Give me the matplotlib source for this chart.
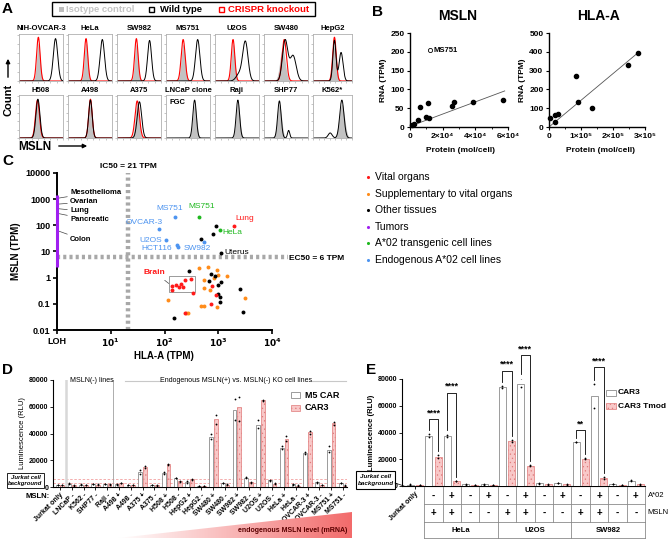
import matplotlib
matplotlib.use("Agg")
import matplotlib.pyplot as plt
import numpy as np
from matplotlib.patches import Rectangle, Polygon
from matplotlib.transforms import blended_transform_factory
from matplotlib.colors import LinearSegmentedColormap

plt.rcParams["font.family"] = ["Liberation Sans", "DejaVu Sans"]
plt.rcParams["hatch.linewidth"] = 0.4
plt.rcParams["axes.linewidth"] = 0.8

W, H = 669, 539

# ---------------- data ----------------
# A: flow histograms (peak centre / width / height on a 0..1 log-fluorescence axis)
a_names = ["NIH-OVCAR-3", "HeLa", "SW982", "MS751", "U2OS", "SW480", "HepG2",
           "H508", "A498", "A375", "LNCaP clone", "Raji", "SHP77", "K562*"]
a_iso_c = [0.44, 0.41, 0.44, 0.39, 0.41, 0.42, 0.55, 0.42, 0.51, 0.46, 0.65, 0.52, 0.35, 0.74]
a_iso_s = [0.04, 0.04, 0.04, 0.045, 0.04, 0.06, 0.05, 0.045, 0.04, 0.045, 0.045, 0.045, 0.05, 0.07]
a_iso_h = [0.82, 0.82, 0.80, 0.80, 0.80, 0.72, 0.78, 0.85, 0.85, 0.82, 0.80, 0.82, 0.80, 0.80]
a_wt_c = [0.83, 0.78, 0.74, 0.72, 0.69, 0.48, 0.55, 0.43, 0.51, 0.51, 0.65, 0.52, 0.35, 0.74]
a_wt_s = [0.05, 0.05, 0.045, 0.05, 0.06, 0.06, 0.04, 0.045, 0.04, 0.05, 0.04, 0.04, 0.04, 0.055]
a_wt_h = [0.92, 0.90, 0.88, 0.90, 0.85, 0.88, 0.88, 0.92, 0.90, 0.86, 0.90, 0.90, 0.88, 0.90]
a_wt2_c = [0.60, 0.60, 0.60, 0.60, 0.55, 0.66, 0.72, 0.60, 0.60, 0.60, 0.60, 0.60, 0.56, 0.44]
a_wt2_s = [0.05, 0.05, 0.05, 0.05, 0.07, 0.07, 0.05, 0.05, 0.05, 0.05, 0.05, 0.05, 0.025, 0.05]
a_wt2_h = [0.0, 0.0, 0.0, 0.0, 0.15, 0.55, 0.62, 0.0, 0.0, 0.0, 0.0, 0.0, 0.18, 0.12]
a_ko_c = [0.44, 0.41, 0.44, 0.39, 0.41, 0.46, 0.55, 0.42, 0.51, 0.46, None, None, None, None]
a_ko_s = [0.04, 0.04, 0.04, 0.045, 0.04, 0.05, 0.045, 0.045, 0.04, 0.05, 0, 0, 0, 0]
a_ko_h = [0.95, 0.92, 0.92, 0.90, 0.90, 0.90, 0.95, 0.90, 0.92, 0.88, 0, 0, 0, 0]

# B: RNA vs protein
b_msln_prot = [1000, 2400, 4600, 6000, 9600, 11400, 11000, 25500, 26700, 38600, 57200]
b_msln_rna = [4.5, 7, 18, 52, 27, 24, 64, 55, 67, 67, 71]
b_ms751 = (12000, 204)
b_msln_fit = (0.00162, 2.0)  # slope, intercept
b_hla_prot = [2000, 18000, 20000, 27000, 85000, 92000, 134000, 248000, 277000]
b_hla_rna = [50, 29, 65, 68, 270, 135, 101, 329, 396]
b_hla_fit = (0.00142, 0.0)

# C: MSLN vs HLA-A expression
c_vital_x = [1967, 137, 137, 166, 183, 200, 218, 237, 316, 345, 750, 904, 729, 237]
c_vital_y = [92.7, 0.48, 0.336, 0.52, 0.43, 0.57, 0.45, 0.81, 0.86, 0.27, 0.49, 0.217, 0.099, 0.046]
c_supp_x = [440, 631, 930, 1000, 841, 546, 1476, 698, 546, 115, 487, 546, 930, 3162, 255, 275]
c_supp_y = [2.39, 2.61, 1.95, 1.26, 0.94, 0.81, 1.15, 0.336, 0.39, 0.14, 0.085, 0.085, 0.078, 0.162, 0.046, 0.046]
c_other_x = [282, 718, 866, 668, 1122, 971, 1000, 1072, 1072, 2547, 2943, 150, 473, 783, 891, 1106]
c_other_y = [1.84, 1.37, 1.15, 0.76, 0.70, 0.52, 0.237, 0.188, 0.121, 0.357, 0.047, 0.028, 28.8, 45.9, 92.7, 8.9]
c_tg_x = [440, 1072]
c_tg_y = [210, 69]
c_endo_x = [154, 78, 107, 173, 178, 538]
c_endo_y = [210, 73, 27, 17.5, 14.3, 23.4]
c_tumor_names = ["Mesothelioma", "Ovarian", "Lung", "Pancreatic", "Colon"]
c_tumor_val = [1100, 650, 430, 280, 60]
c_tumor_range = (2.5, 1500)
c_ic50 = 21
c_ec50 = 6

# D: luciferase, M5 CAR vs CAR3
d_labels = ["Jurkat only", "LNCaP -", "K562 -", "SHP77 -", "Raji -", "A498 +", "A498 -",
            "A375 +", "A375 -", "H508 +", "H508 -", "HepG2 +", "HepG2 -", "SW480 +",
            "SW480 -", "SW982 +", "SW982 -", "U2OS +", "U2OS -", "HeLa +", "HeLa -",
            "OVCAR-3 +", "OVCAR-3 -", "MS751 +", "MS751 -"]
d_m5 = [1500, 2500, 1800, 2200, 2200, 2000, 1500, 11000, 1500, 10500, 6700, 3700, 1000,
        37500, 3000, 57500, 7000, 46700, 5000, 29500, 2000, 25700, 3500, 28000, 3000]
d_car3 = [1500, 1200, 1500, 1800, 2000, 3000, 1500, 15000, 1200, 17000, 4200, 5700, 800,
          50700, 1800, 59500, 3500, 64700, 2500, 36000, 1000, 41000, 1500, 47500, 1000]
d_m5_rep1 = [1700, 2700, 2000, 2400, 2400, 2200, 1700, 12500, 1700, 11000, 7000, 4200, 1100,
             39500, 3300, 65500, 7300, 50000, 5500, 30500, 2300, 26500, 3800, 31000, 3300]
d_m5_rep2 = [1300, 2300, 1600, 2000, 2000, 1800, 1300, 10000, 1300, 10000, 6500, 3300, 900,
             36000, 2700, 50000, 6800, 44000, 4600, 28500, 1800, 25000, 3200, 26500, 2700]
d_car3_rep1 = [1700, 1400, 1700, 2000, 2200, 3300, 1700, 15500, 1400, 17500, 4500, 6000, 900,
               54000, 2000, 67000, 3800, 65000, 2800, 38000, 1200, 42000, 1700, 48500, 1200]
d_car3_rep2 = [1300, 1000, 1300, 1600, 1800, 2700, 1300, 14500, 1000, 16500, 3900, 5400, 700,
               47000, 1600, 49000, 3200, 64000, 2200, 34500, 800, 40000, 1300, 46500, 800]
d_background = [3000, 5700]

# E: CAR3 vs CAR3 Tmod
e_a02 = ["-", "+", "-", "+", "-", "+", "-", "+", "-", "+", "-", "+"]
e_msln = ["+", "+", "-", "-", "+", "+", "-", "-", "+", "+", "-", "-"]
e_lines = ["HeLa", "U2OS", "SW982"]
e_car3 = [1000, 37500, 37500, 1200, 1200, 74000, 76000, 2000, 2200, 33000, 67500, 1500, 4000]
e_tmod = [700, 21500, 3700, 800, 800, 33700, 15000, 1200, 1200, 20500, 6200, 1000, 1200]
e_car3_rep1 = [1200, 39000, 38500, 1400, 1400, 74500, 81000, 2200, 2400, 33200, 76000, 1700, 4200]
e_car3_rep2 = [800, 36500, 36500, 1000, 1000, 73500, 74000, 1800, 2000, 32800, 58000, 1300, 3800]
e_tmod_rep1 = [800, 23000, 4000, 900, 900, 34500, 15500, 1300, 1300, 21000, 7000, 1100, 1300]
e_tmod_rep2 = [600, 21000, 3400, 700, 700, 33000, 14600, 1100, 1100, 20000, 5500, 900, 1100]
e_sig_col = [1, 2, 5, 6, 9, 10]
e_sig_y = [50000, 69500, 86000, 97700, 41500, 88700]
e_sig_txt = ["****", "****", "****", "****", "**", "****"]

WHITE_EDGE = "#8c8c8c"
PINK = "#f8c8c8"
PINK_EDGE = "#e07a7a"

fig = plt.figure(figsize=(W / 100, H / 100), dpi=100)


def add_ax(x0, y0, x1, y1):
    return fig.add_axes([x0 / W, 1 - y1 / H, (x1 - x0) / W, (y1 - y0) / H])


ov = fig.add_axes([0, 0, 1, 1], zorder=20)
ov.set_xlim(0, W)
ov.set_ylim(H, 0)
ov.axis("off")


def t(x, y, s, **kw):
    kw.setdefault("va", "center")
    ov.text(x, y, s, **kw)


# ---------------- Panel A ----------------
t(2, 9, "A", fontsize=11, fontweight="bold")
ov.add_patch(Rectangle((52, 2), 263, 14, fill=False, ec="k", lw=1))
ov.add_patch(Rectangle((59, 6.5), 5, 5, fc="#bdbdbd", ec="none"))
t(66, 9.5, "Isotype control", color="#c4c4c4", fontsize=6.8, fontweight="bold")
ov.add_patch(Rectangle((149, 6.5), 5, 5, fill=False, ec="k", lw=1))
t(160, 9.5, "Wild type", color="k", fontsize=6.8, fontweight="bold")
ov.add_patch(Rectangle((219, 6.5), 5, 5, fill=False, ec="red", lw=1))
t(228, 9.5, "CRISPR knockout", color="red", fontsize=6.8, fontweight="bold")

xs = np.linspace(0, 1, 300)


def peak(c, s, h):
    return h * np.exp(-0.5 * ((xs - c) / s) ** 2)


a_x0 = [19, 68, 117, 166, 215, 264, 313]
rows = [(34, 81), (95, 138)]
for i, name in enumerate(a_names):
    r, c = divmod(i, 7)
    y0, y1 = rows[r]
    w = 44 if c < 6 else 39
    ax = add_ax(a_x0[c], y0, a_x0[c] + w, y1)
    ax.fill_between(xs, peak(a_iso_c[i], a_iso_s[i], a_iso_h[i]), color="#c2c2c2", lw=0)
    if a_ko_c[i] is not None:
        ax.plot(xs, peak(a_ko_c[i], a_ko_s[i], a_ko_h[i]), color="red", lw=0.8)
    wt = peak(a_wt_c[i], a_wt_s[i], a_wt_h[i]) + peak(a_wt2_c[i], a_wt2_s[i], a_wt2_h[i])
    ax.plot(xs, wt, color="k", lw=0.7)
    ax.set_xlim(0, 1)
    ax.set_ylim(0, 1.02)
    ax.set_xticks(np.linspace(0, 1, 8))
    ax.set_yticks(np.linspace(0, 1, 6))
    ax.set_xticklabels([])
    ax.set_yticklabels([])
    ax.tick_params(length=1.2, width=0.4, colors="#999999")
    for sp in ax.spines.values():
        sp.set_color("#b0b0b0")
        sp.set_linewidth(0.6)
    t(a_x0[c] + w / 2, y0 - 5, name, ha="center", fontsize=5.5, fontweight="bold")
    if name == "LNCaP clone":
        t(a_x0[c] + 3, y0 + 8, "FGC", fontsize=5.5, fontweight="bold")

ov.annotate("", xy=(8, 56), xytext=(8, 80),
            arrowprops=dict(arrowstyle="-|>", color="k", lw=1, mutation_scale=6))
t(8, 100, "Count", rotation=90, ha="center", fontsize=8, fontweight="bold")
t(18, 147, "MSLN", fontsize=8.5, fontweight="bold")
ov.annotate("", xy=(90, 146), xytext=(56, 146),
            arrowprops=dict(arrowstyle="-|>", color="k", lw=1, mutation_scale=6))

# ---------------- Panel B ----------------
t(372, 12, "B", fontsize=11, fontweight="bold")


def style_b(ax):
    for sp in ["top", "right"]:
        ax.spines[sp].set_visible(False)
    for sp in ["left", "bottom"]:
        ax.spines[sp].set_linewidth(1.0)
    ax.tick_params(length=2.5, width=0.8, labelsize=6, pad=1.5)
    ax.tick_params(which="minor", length=1.5, width=0.6)
    for lab in ax.get_xticklabels() + ax.get_yticklabels():
        lab.set_fontweight("bold")


axb1 = add_ax(410, 33, 508, 127)
axb1.scatter(b_msln_prot, b_msln_rna, s=9, color="k", zorder=3, clip_on=False)
axb1.scatter([b_ms751[0]], [b_ms751[1]], s=9, facecolor="white", edgecolor="k", lw=0.6, zorder=3)
axb1.text(b_ms751[0] + 2500, b_ms751[1], "MS751", fontsize=5.5, fontweight="bold", va="center")
fx = np.array([0, 58000])
axb1.plot(fx, b_msln_fit[0] * fx + b_msln_fit[1], color="#555555", lw=0.6)
axb1.set_xlim(0, 60000)
axb1.set_ylim(0, 250)
axb1.set_xticks([0, 20000, 40000, 60000])
axb1.set_xticklabels(["0", "2×10⁴", "4×10⁴", "6×10⁴"])
axb1.set_xticks([10000, 30000, 50000], minor=True)
axb1.set_yticks([0, 50, 100, 150, 200, 250])
axb1.set_ylabel("RNA (TPM)", fontsize=6, fontweight="bold", labelpad=2)
style_b(axb1)
t(458, 16, "MSLN", ha="center", fontsize=10, fontweight="bold")
t(460, 150, "Protein (mol/cell)", ha="center", fontsize=6, fontweight="bold")

axb2 = add_ax(549, 33, 645, 127)
axb2.scatter(b_hla_prot, b_hla_rna, s=9, color="k", zorder=3, clip_on=False)
hx = np.array([0, 280000])
axb2.plot(hx, b_hla_fit[0] * hx + b_hla_fit[1], color="#555555", lw=0.6)
axb2.set_xlim(0, 300000)
axb2.set_ylim(0, 500)
axb2.set_xticks([0, 100000, 200000, 300000])
axb2.set_xticklabels(["0", "1×10⁵", "2×10⁵", "3×10⁵"])
axb2.set_xticks([50000, 150000, 250000], minor=True)
axb2.set_yticks([0, 100, 200, 300, 400, 500])
axb2.set_ylabel("RNA (TPM)", fontsize=6, fontweight="bold", labelpad=2)
style_b(axb2)
t(598, 16, "HLA-A", ha="center", fontsize=10, fontweight="bold")
t(600, 150, "Protein (mol/cell)", ha="center", fontsize=6, fontweight="bold")

# ---------------- Panel C ----------------
t(2, 161, "C", fontsize=11, fontweight="bold")
RED, ORANGE, PURPLE, GREEN, BLUE = "#ff1a1a", "#ff8c1a", "#a020f0", "#1fb81f", "#4d94f0"
axc = add_ax(57, 173, 272, 330)
axc.set_xscale("log")
axc.set_yscale("log")
axc.set_xlim(1, 1e4)
axc.set_ylim(0.01, 1e4)
dot = dict(s=8, lw=0, zorder=4, clip_on=False)
axc.scatter(c_supp_x, c_supp_y, color=ORANGE, **dot)
axc.scatter(c_other_x, c_other_y, color="k", **dot)
axc.scatter(c_vital_x, c_vital_y, color=RED, **dot)
axc.scatter(c_tg_x, c_tg_y, color=GREEN, **dot)
axc.scatter(c_endo_x, c_endo_y, color=BLUE, **dot)
axc.vlines(1, c_tumor_range[0], c_tumor_range[1], color=PURPLE, lw=2.2, zorder=5, clip_on=False)
dotline = dict(color="#a8a8a8", lw=3.2, linestyle=(0, (0.7, 0.7)), zorder=1, clip_on=False)
axc.plot([c_ic50, c_ic50], [0.01, 1e4], **dotline)
axc.plot([1, 2e4], [c_ec50, c_ec50], **dotline)
tumor_text_y = [1860, 780, 355, 162, 30]
for name, v, ty in zip(c_tumor_names, c_tumor_val, tumor_text_y):
    axc.annotate(name, xy=(1.08, v), xytext=(1.75, ty), fontsize=5.5, fontweight="bold",
                 va="center", arrowprops=dict(arrowstyle="-", color="#444444", lw=0.5,
                                              shrinkA=0, shrinkB=0))
axc.add_patch(Rectangle((120, 0.29), 243, 0.9, fill=False, ec="#9a9a9a", lw=0.7, zorder=3))
axc.annotate("Brain", xy=(120, 0.6), xytext=(65, 1.6), color=RED, fontsize=6,
             fontweight="bold", ha="center", va="center",
             arrowprops=dict(arrowstyle="-", color="#444444", lw=0.5, shrinkA=2, shrinkB=0))
axc.set_xticks([1, 10, 100, 1000, 10000])
axc.set_xticklabels(["LOH", r"$\mathbf{10^{1}}$", r"$\mathbf{10^{2}}$",
                     r"$\mathbf{10^{3}}$", r"$\mathbf{10^{4}}$"])
axc.set_yticks([0.01, 0.1, 1, 10, 100, 1000, 10000])
axc.set_yticklabels(["0.01", "0.1", "1", "10", "100", "1000", "10000"])
axc.minorticks_off()
for sp in ["top", "right"]:
    axc.spines[sp].set_visible(False)
for sp in ["left", "bottom"]:
    axc.spines[sp].set_linewidth(1.4)
axc.tick_params(length=3, width=1.2, labelsize=6.5, pad=2)
for lab in axc.get_xticklabels() + axc.get_yticklabels():
    lab.set_fontweight("bold")
axc.set_ylabel("MSLN (TPM)", fontsize=7, fontweight="bold", labelpad=3)
t(164, 356, "HLA-A (TPM)", ha="center", fontsize=7, fontweight="bold")
t(128, 166, "IC50 = 21 TPM", ha="center", fontsize=6, fontweight="bold")
t(289, 258, "EC50 = 6 TPM", fontsize=6, fontweight="bold")
lab_kw = dict(fontsize=6)
t(170, 209, "MS751", color=BLUE, ha="center", **lab_kw)
t(144, 222, "OVCAR-3", color=BLUE, ha="center", **lab_kw)
t(151, 240, "U2OS", color=BLUE, ha="center", **lab_kw)
t(157, 249, "HCT116", color=BLUE, ha="center", **lab_kw)
t(197, 249, "SW982", color=BLUE, ha="center", **lab_kw)
t(202, 207, "MS751", color=GREEN, ha="center", **lab_kw)
t(232, 233, "HeLa", color=GREEN, ha="center", **lab_kw)
t(245, 219, "Lung", color=RED, ha="center", **lab_kw)
t(237, 252, "Uterus", color="k", ha="center", **lab_kw)

c_leg = [("Vital organs", RED), ("Supplementary to vital organs", ORANGE),
         ("Other tissues", "k"), ("Tumors", PURPLE),
         ("A*02 transgenic cell lines", GREEN), ("Endogenous A*02 cell lines", BLUE)]
for k, (lab, col) in enumerate(c_leg):
    y = 177 + k * 16.6
    ov.scatter([368], [y], s=5, color=col, lw=0)
    t(375, y, lab, fontsize=7.5)

# ---------------- Panel D ----------------
t(2, 370, "D", fontsize=11, fontweight="bold")
axd = add_ax(53, 380, 347, 487)
xd = np.arange(len(d_labels))
axd.bar(xd - 0.2, d_m5, 0.32, color="white", edgecolor=WHITE_EDGE, lw=0.6, zorder=3)
axd.bar(xd + 0.2, d_car3, 0.32, color=PINK, edgecolor=PINK_EDGE, lw=0.5, hatch="....", zorder=3)
for reps, off in [(d_m5_rep1, -0.2), (d_m5_rep2, -0.2), (d_car3_rep1, 0.2), (d_car3_rep2, 0.2)]:
    axd.plot(xd + off, reps, "o", color="k", ms=1.3, mew=0, zorder=4)
for v in d_background:
    axd.axhline(v, color="#f2a0a0", lw=0.6, ls=(0, (3, 2)), zorder=1)
axd.axvline(0.5, color="#d8d8d8", lw=1.8, zorder=2)
axd.axvline(4.5, color="#a0a0a0", lw=0.6, zorder=2)
axd.set_xlim(-0.594, 24.34)
axd.set_ylim(0, 80000)
axd.set_yticks([0, 20000, 40000, 60000, 80000])
axd.set_xticks(xd)
axd.set_xticklabels(d_labels, rotation=45, ha="right", rotation_mode="anchor")
for sp in ["top", "right"]:
    axd.spines[sp].set_visible(False)
axd.tick_params(length=2, width=0.6, labelsize=5, pad=1.5)
for lab in axd.get_xticklabels() + axd.get_yticklabels():
    lab.set_fontweight("bold")
axd.set_ylabel("Luminescence (RLU)", fontsize=5.5, labelpad=2)
t(92, 381, "MSLN(-) lines", ha="center", fontsize=5)
t(236, 381, "Endogenous MSLN(+) vs. MSLN(-) KO cell lines", ha="center", fontsize=5)
ov.plot([125, 160], [381, 381], color="#c8c8c8", lw=0.8)
ov.plot([311, 346], [381, 381], color="#c8c8c8", lw=0.8)
ov.add_patch(Rectangle((7, 473), 37, 15, fc="white", ec="k", lw=0.6))
t(25.5, 477.5, "Jurkat cell", ha="center", fontsize=4.3, fontstyle="italic", fontweight="bold")
t(25.5, 484, "background", ha="center", fontsize=4.3, fontstyle="italic", fontweight="bold")
t(25, 497, "MSLN:", fontsize=5.5, fontweight="bold")
ov.add_patch(Rectangle((291, 392), 9, 6, fc="white", ec=WHITE_EDGE, lw=0.6))
t(305, 395, "M5 CAR", fontsize=6.5, fontweight="bold")
ov.add_patch(Rectangle((291, 405), 9, 6, fc=PINK, ec=PINK_EDGE, lw=0.5, hatch="...."))
t(305, 408, "CAR3", fontsize=6.5, fontweight="bold")

# gradient wedge: endogenous MSLN level
axg = add_ax(118, 512, 352, 538)
grad = np.linspace(0, 1, 256).reshape(1, -1)
cmap = LinearSegmentedColormap.from_list("wedge", ["#ffffff", "#f26b6b"])
im = axg.imshow(grad, aspect="auto", cmap=cmap, extent=(0, 1, 0, 1))
wedge = Polygon([(0, 0), (1, 1), (1, 0)], closed=True, transform=axg.transAxes, fc="none", ec="none")
axg.add_patch(wedge)
im.set_clip_path(wedge)
axg.set_xlim(0, 1)
axg.set_ylim(0, 1)
axg.axis("off")
t(293, 531, "endogenous MSLN level (mRNA)", ha="center", fontsize=5, fontweight="bold", color="#5a0000")

# ---------------- Panel E ----------------
t(366, 370, "E", fontsize=11, fontweight="bold")
axe = add_ax(402, 379, 645, 486)
xe = np.arange(len(e_car3))
axe.bar(xe - 0.25, e_car3, 0.38, color="white", edgecolor=WHITE_EDGE, lw=0.6, zorder=3)
axe.bar(xe + 0.25, e_tmod, 0.38, color=PINK, edgecolor=PINK_EDGE, lw=0.5, hatch="....", zorder=3)
for reps, off in [(e_car3_rep1, -0.25), (e_car3_rep2, -0.25), (e_tmod_rep1, 0.25), (e_tmod_rep2, 0.25)]:
    axe.plot(xe + off, reps, "o", color="k", ms=1.3, mew=0, zorder=4)
for col, yb, txt in zip(e_sig_col, e_sig_y, e_sig_txt):
    lo_l = max(e_car3[col], e_car3_rep1[col]) + 3000
    lo_r = max(e_tmod[col], e_tmod_rep1[col]) + 3000
    axe.plot([col - 0.25, col - 0.25, col + 0.25, col + 0.25], [lo_l, yb, yb, lo_r],
             color="k", lw=0.6, clip_on=False)
    axe.text(col, yb + 1500, txt, ha="center", va="bottom", fontsize=6.5, fontweight="bold",
             clip_on=False)
axe.set_xlim(-0.71, 12.5)
axe.set_ylim(0, 80000)
axe.set_yticks([0, 20000, 40000, 60000, 80000])
axe.set_xticks([0])
axe.set_xticklabels(["Jurkat only"], rotation=45, ha="right", rotation_mode="anchor")
for sp in ["top", "right"]:
    axe.spines[sp].set_visible(False)
axe.tick_params(length=2, width=0.6, labelsize=5, pad=1.5)
for lab in axe.get_xticklabels() + axe.get_yticklabels():
    lab.set_fontweight("bold")
axe.set_ylabel("Luminescence (RLU)", fontsize=5.5, fontweight="bold", labelpad=2)

tr = blended_transform_factory(axe.transData, ov.transData)
tab_c = "#8a8a8a"
for yy in [504, 522, 538]:
    ov.plot([0.5, 12.5], [yy, yy], color=tab_c, lw=0.6, transform=tr)
for k in range(13):
    xb = 0.5 + k
    ov.plot([xb, xb], [487, 522], color=tab_c, lw=0.6, transform=tr)
for k in range(4):
    xb = 0.5 + 4 * k
    ov.plot([xb, xb], [522, 538], color=tab_c, lw=0.6, transform=tr)
for k, (a, m) in enumerate(zip(e_a02, e_msln)):
    ov.text(k + 1, 495.5, a, ha="center", va="center", fontsize=7, fontweight="bold", transform=tr)
    ov.text(k + 1, 513, m, ha="center", va="center", fontsize=7, fontweight="bold", transform=tr)
for k, name in enumerate(e_lines):
    ov.text(2.5 + 4 * k, 530, name, ha="center", va="center", fontsize=5.5, fontweight="bold", transform=tr)
t(648, 495.5, "A*02", fontsize=5.5)
t(647, 513, "MSLN", fontsize=5.5)
ov.add_patch(Rectangle((356, 471), 39, 18, fc="white", ec="k", lw=0.8))
t(375.5, 476, "Jurkat cell", ha="center", fontsize=4.5, fontstyle="italic", fontweight="bold")
t(375.5, 484, "background", ha="center", fontsize=4.5, fontstyle="italic", fontweight="bold")
ov.plot([395, 404], [483, 486], color="k", lw=0.5)
ov.add_patch(Rectangle((606, 390), 10, 6, fc="white", ec=WHITE_EDGE, lw=0.6))
t(618, 393, "CAR3", fontsize=6, fontweight="bold")
ov.add_patch(Rectangle((606, 403), 10, 6, fc=PINK, ec=PINK_EDGE, lw=0.5, hatch="...."))
t(618, 406, "CAR3 Tmod", fontsize=6, fontweight="bold")

fig.savefig("out.png", dpi=100)
